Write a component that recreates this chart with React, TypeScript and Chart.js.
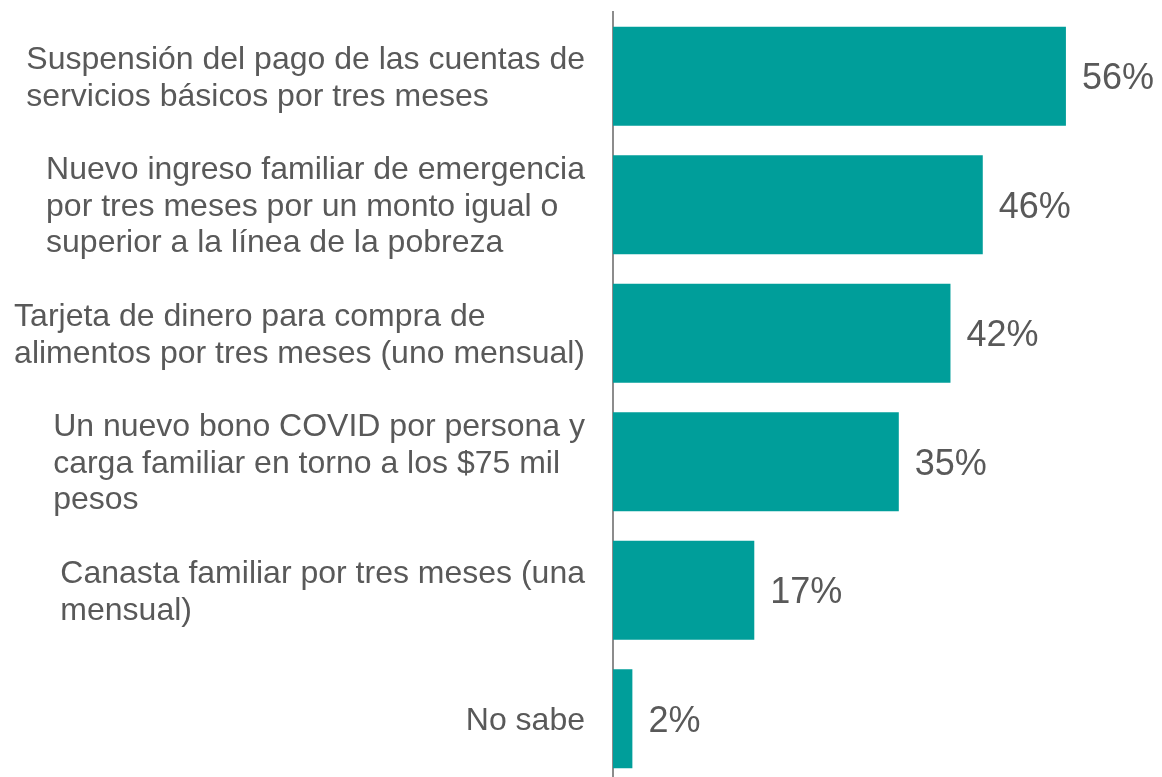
import React, { useEffect, useRef } from "react";
import { Chart, registerables } from "chart.js";

Chart.register(...registerables);

const categoryLines: string[][] = [
  ["Suspensión del pago de las cuentas de", "servicios básicos por tres meses"],
  ["Nuevo ingreso familiar de emergencia", "por tres meses por un monto igual o", "superior a la línea de la pobreza"],
  ["Tarjeta de dinero para compra de", "alimentos por tres meses (uno mensual)"],
  ["Un nuevo bono COVID por persona y", "carga familiar en torno a los $75 mil", "pesos"],
  ["Canasta familiar por tres meses (una", "mensual)"],
  ["No sabe"],
];
// bar lengths (labels show the rounded values)
const values: number[] = [56.1, 45.8, 41.8, 35.4, 17.5, 2.4];
const valueLabels: string[] = ["56%", "46%", "42%", "35%", "17%", "2%"];

const BAR_COLOR = "#009E9A";
const TEXT_COLOR = "#595959";
const FONT = "Arial, 'Liberation Sans', sans-serif";

const labelPlugin = {
  id: "customLabels",
  afterDatasetsDraw(chart: any) {
    const ctx = chart.ctx;
    const meta = chart.getDatasetMeta(0);
    const yScale = chart.scales.y;
    const axisX = chart.chartArea.left;
    ctx.save();
    ctx.fillStyle = TEXT_COLOR;
    ctx.font = `32px ${FONT}`;
    ctx.textBaseline = "middle";
    ctx.textAlign = "left";
    const lineH = 36.9;
    categoryLines.forEach((lines, i) => {
      const cy = yScale.getPixelForValue(i);
      const maxW = Math.max(...lines.map((l) => ctx.measureText(l).width));
      const x0 = axisX - 28 - maxW;
      lines.forEach((l, j) => {
        const y = cy + (j - (lines.length - 1) / 2) * lineH + 2;
        ctx.fillText(l, x0, y);
      });
    });
    ctx.font = `36px ${FONT}`;
    meta.data.forEach((bar: any, i: number) => {
      ctx.fillText(valueLabels[i], bar.x + 16, bar.y + 3);
    });
    ctx.restore();
  },
};

export default function App() {
  const ref = useRef<HTMLCanvasElement>(null);
  useEffect(() => {
    document.body.style.margin = "0";
    document.body.style.overflow = "hidden";
    const chart = new Chart(ref.current!, {
      type: "bar",
      data: {
        labels: categoryLines.map((l) => l.join(" ")),
        datasets: [
          {
            data: values,
            backgroundColor: BAR_COLOR,
            borderWidth: 0,
            categoryPercentage: 0.77,
            barPercentage: 1,
          },
        ],
      },
      options: {
        indexAxis: "y",
        animation: false,
        responsive: false,
        maintainAspectRatio: false,
        layout: { padding: { top: 12, bottom: 7, left: 0, right: 0 } },
        plugins: {
          legend: { display: false },
          tooltip: { enabled: false },
          title: { display: false },
        },
        scales: {
          x: {
            display: false,
            min: 0,
            max: 68,
          },
          y: {
            display: true,
            ticks: { display: false },
            grid: { display: false, drawTicks: false },
            border: { display: true, color: "#8c8c8c", width: 2 },
            afterFit: (scale: any) => {
              scale.width = 613;
            },
          },
        },
      },
      plugins: [labelPlugin],
    });
    return () => chart.destroy();
  }, []);
  return (
    <div style={{ position: "fixed", left: 0, top: 0, width: 1162, height: 790 }}>
      <canvas ref={ref} width={1162} height={790} style={{ width: 1162, height: 790 }} />
    </div>
  );
}
